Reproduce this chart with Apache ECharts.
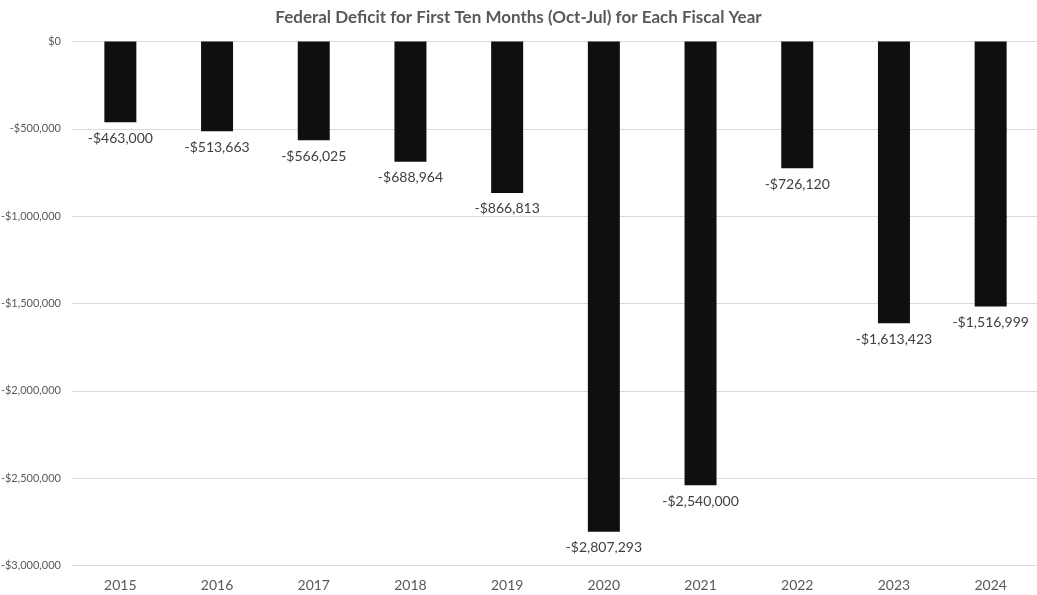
<!DOCTYPE html>
<html>
<head>
<meta charset="utf-8">
<script src="https://cdn.jsdelivr.net/npm/echarts@6/dist/echarts.min.js"></script>
<style>html,body{margin:0;padding:0;background:#fff}#c{width:1037px;height:595px}</style>
</head>
<body>
<div id="c"></div>
<script>
const categories = ['2015','2016','2017','2018','2019','2020','2021','2022','2023','2024'];
const deficits = [-463000, -513663, -566025, -688964, -866813, -2807293, -2540000, -726120, -1613423, -1516999];
const chartTitle = 'Federal Deficit for First Ten Months (Oct-Jul) for Each Fiscal Year';

function money(v) {
  const s = Math.abs(v).toLocaleString('en-US');
  return (v < 0 ? '-$' : '$') + s;
}

const chart = echarts.init(document.getElementById('c'));
chart.setOption({
  animation: false,
  textStyle: { fontFamily: 'Lato' },
  title: {
    text: chartTitle,
    left: 'center',
    top: 4,
    textStyle: { fontFamily: 'Lato', fontSize: 17, fontWeight: 'bold', color: '#595959' }
  },
  grid: { left: 72, right: -2, top: 41.5, bottom: 29.5, containLabel: false, outerBoundsMode: 'none' },
  xAxis: {
    type: 'category',
    data: categories,
    axisLine: { show: false, onZero: false },
    axisTick: { show: false },
    axisLabel: { fontSize: 14, color: '#595959', margin: 13, fontFamily: 'Lato' }
  },
  yAxis: {
    type: 'value',
    min: -3000000,
    max: 0,
    interval: 500000,
    axisLine: { show: false },
    axisTick: { show: false },
    splitLine: { lineStyle: { color: '#d9d9d9', width: 1 } },
    axisLabel: { fontSize: 11, color: '#595959', margin: 11, formatter: money, fontFamily: 'Lato' }
  },
  series: [{
    type: 'bar',
    data: deficits,
    barWidth: 32,
    itemStyle: { color: '#0f0f0f' },
    label: {
      show: true,
      position: 'bottom',
      distance: 9,
      fontSize: 14,
      color: '#404040',
      fontFamily: 'Lato',
      formatter: p => money(p.value)
    }
  }]
});
</script>
</body>
</html>
